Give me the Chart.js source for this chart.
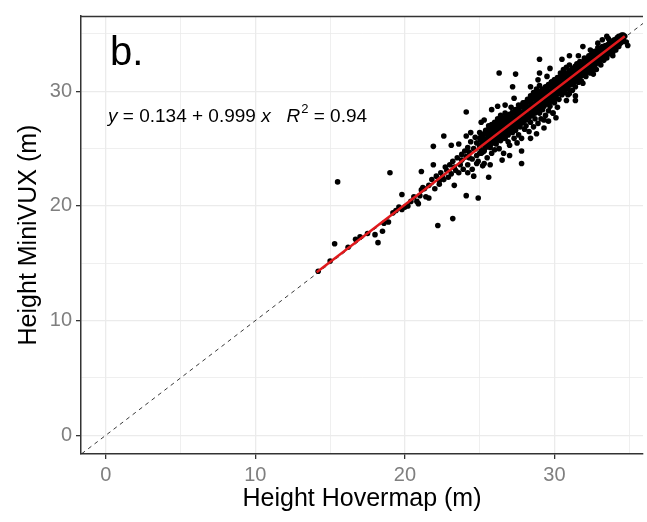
<!DOCTYPE html>
<html>
<head>
<meta charset="utf-8">
<script src="https://cdn.jsdelivr.net/npm/chart.js@4"></script>
<style>
  body { margin: 0; background: #fff; }
  canvas { display: block; }
</style>
</head>
<body>
<canvas id="grafico" width="647" height="522"></canvas>
<script>
// Alturas: Hovermap (x) vs MiniVUX (y) - pontos espalhados
const hoverX = [
  14.2, 15.3, 15.5, 16.7, 17.5, 18.0, 18.2, 18.5, 18.9, 19.2, 19.4, 19.0, 19.8, 20.0, 20.2, 20.8, 20.9,
  21.1, 21.3, 21.4, 21.6, 21.1, 21.9, 22.2, 23.2, 24.1, 24.9, 22.3, 22.5, 22.8, 23.3, 23.8, 24.3,
  21.9, 22.6, 23.1, 23.6, 24.1, 24.1, 24.2, 24.8, 25.3, 25.6, 25.3, 25.8, 26.3, 27.4, 27.2, 26.7,
  27.8, 28.4, 27.8, 29.0, 29.0, 29.7, 30.5, 31.0, 31.9, 31.6, 30.9, 31.4, 30.1, 29.9, 29.3, 32.6,
  33.9, 34.9, 34.6, 33.5, 32.4, 32.9,
  22.1, 22.3, 22.4, 22.6, 22.7, 22.9, 23.0, 23.1, 23.2, 23.4, 23.5, 23.6, 23.7, 23.8, 23.9, 24.0,
  21.6, 21.8, 22.0, 21.2, 21.0, 20.6, 20.4, 19.8, 19.6, 18.6, 17.0, 16.2, 15.0,
  24.1, 24.2, 24.2, 24.3, 24.4, 24.5, 24.5, 24.6, 24.7, 24.8, 24.8, 24.9, 25.0, 25.0, 25.1, 25.2,
  25.2, 25.3, 25.4, 25.4, 25.5, 25.6, 25.6, 25.7, 25.8, 25.8, 25.9, 26.0, 26.0, 26.0, 24.6, 25.7,
  23.3, 24.4, 25.1,
  26.1, 26.1, 26.2, 26.2, 26.3, 26.3, 26.4, 26.4, 26.5, 26.5, 26.6, 26.6, 26.7, 26.7, 26.8, 26.8,
  26.9, 26.9, 27.0, 27.0, 27.0, 27.1, 27.1, 27.2, 27.2, 27.3, 27.3, 27.4, 27.4, 27.5, 27.5, 27.5,
  27.6, 27.6, 27.7, 27.7, 27.8, 27.8, 27.9, 27.9, 28.0, 28.0, 28.0, 26.5, 27.0, 26.2, 27.3,
  28.1, 28.1, 28.2, 28.2, 28.3, 28.3, 28.4, 28.4, 28.5, 28.5, 28.6, 28.6, 28.7, 28.7, 28.8, 28.8,
  28.9, 28.9, 29.0, 29.0, 29.0, 29.1, 29.1, 29.2, 29.2, 29.3, 29.3, 29.3, 29.4, 29.4, 29.5, 29.5,
  29.6, 29.6, 29.7, 29.7, 29.8, 29.8, 29.9, 29.9, 30.0, 30.0, 30.0, 28.4, 28.9, 29.5, 28.8, 29.6,
  30.1, 30.1, 30.2, 30.2, 30.3, 30.3, 30.4, 30.4, 30.5, 30.5, 30.6, 30.6, 30.7, 30.7, 30.8, 30.8,
  30.9, 30.9, 31.0, 31.0, 31.0, 31.1, 31.1, 31.2, 31.2, 31.3, 31.3, 31.4, 31.4, 31.5, 31.5, 31.6,
  31.6, 31.7, 31.7, 31.8, 31.8, 31.9, 31.9, 32.0, 32.0, 32.0, 30.2, 30.8, 31.4,
  32.1, 32.1, 32.2, 32.2, 32.3, 32.3, 32.4, 32.4, 32.5, 32.5, 32.6, 32.6, 32.7, 32.7, 32.8, 32.8,
  32.9, 32.9, 33.0, 33.0, 33.1, 33.1, 33.2, 33.2, 33.3, 33.3, 33.4, 33.4, 33.5, 33.5, 33.6, 33.7,
  33.7, 33.8, 33.9, 33.9, 34.0, 34.1, 34.1, 34.2, 34.3, 34.3, 34.4, 34.5, 34.6, 34.7, 34.8, 33.6,
  32.9, 33.2
];
const miniY = [
  14.3, 16.7, 22.1, 17.1, 17.6, 17.5, 16.8, 17.8, 18.6, 19.4, 19.6, 22.9, 21.0, 19.9, 20.0, 20.4, 20.2,
  21.4, 21.5, 20.8, 20.7, 23.0, 23.6, 18.3, 18.9, 20.9, 20.7, 22.2, 22.5, 23.1, 23.4, 24.0, 24.2,
  25.2, 26.1, 25.3, 25.4, 28.2, 26.1, 22.9, 23.7, 23.7, 22.5, 27.5, 28.4, 31.6, 31.5, 30.4, 28.8,
  23.7, 25.9, 24.8, 32.8, 31.6, 32.0, 32.8, 33.1, 33.9, 33.1, 29.7, 29.2, 27.7, 28.1, 27.5, 31.5,
  33.1, 34.0, 34.9, 34.8, 33.6, 33.8,
  22.6, 21.9, 22.9, 22.3, 23.4, 22.5, 23.6, 22.8, 23.9, 23.1, 24.2, 22.9, 23.6, 24.5, 23.2, 24.8,
  21.8, 22.3, 21.5, 21.6, 20.9, 20.8, 20.4, 19.7, 19.9, 18.5, 17.3, 16.4, 15.2,
  24.3, 25.1, 23.6, 24.7, 25.6, 24.1, 23.2, 25.0, 26.0, 24.4, 25.5, 23.9, 25.2, 26.4, 24.6, 25.8,
  23.5, 24.9, 26.6, 25.3, 24.2, 25.9, 27.0, 25.1, 26.3, 24.6, 25.7, 27.2, 26.0, 24.9, 22.6, 23.6,
  21.8, 26.4, 27.3,
  26.5, 25.4, 27.6, 26.1, 25.0, 26.8, 27.9, 25.7, 26.3, 27.2, 24.6, 26.9, 25.9, 28.1, 26.6, 27.5,
  25.6, 26.2, 27.9, 26.8, 25.3, 27.2, 28.6, 26.4, 27.6, 25.9, 27.0, 28.3, 26.6, 27.9, 25.5, 27.3,
  26.2, 28.8, 27.6, 26.9, 28.2, 25.9, 27.4, 29.0, 26.7, 28.1, 27.5, 24.0, 24.4, 28.7, 29.4,
  28.7, 27.0, 29.3, 27.8, 26.5, 28.4, 29.6, 27.3, 28.0, 28.9, 26.9, 29.9, 28.3, 27.6, 29.2, 30.2,
  28.6, 27.2, 29.5, 28.1, 30.5, 28.9, 27.6, 29.8, 28.4, 30.1, 28.8, 26.8, 29.4, 27.9, 30.4, 29.0,
  28.3, 30.0, 29.6, 28.7, 30.8, 29.2, 28.1, 30.3, 29.8, 29.0, 31.0, 30.4, 31.0, 31.3, 26.3, 27.4,
  30.5, 29.4, 31.2, 30.0, 29.3, 30.8, 31.6, 30.2, 29.7, 31.0, 30.5, 31.9, 29.9, 31.3, 30.8, 32.1,
  30.2, 31.5, 31.0, 29.8, 32.3, 30.6, 31.7, 31.2, 30.1, 32.0, 30.9, 31.5, 30.4, 32.4, 31.1, 30.8,
  31.9, 32.6, 31.4, 30.9, 32.2, 31.7, 30.7, 32.5, 31.4, 32.9, 28.6, 29.2, 29.6,
  32.0, 31.3, 32.7, 31.7, 33.1, 32.2, 31.6, 32.8, 32.4, 33.3, 31.9, 32.9, 32.3, 33.5, 32.8, 31.9,
  33.2, 32.5, 33.7, 32.9, 32.3, 33.4, 33.0, 33.9, 32.7, 33.5, 33.1, 34.0, 33.4, 32.9, 33.8, 33.3,
  34.3, 33.7, 33.4, 34.2, 33.9, 34.4, 33.6, 34.1, 34.6, 33.9, 34.3, 34.7, 34.5, 34.8, 34.3, 34.6,
  34.2, 34.5
];

// Núcleo denso da nuvem (lido aproximadamente)
const nucleoX = [
  25.0, 25.0, 25.0, 25.1, 25.1, 25.1, 25.2, 25.2, 25.2, 25.3, 25.3, 25.3, 25.4, 25.4, 25.4,
  25.5, 25.5, 25.5, 25.6, 25.6, 25.6, 25.7, 25.7, 25.7, 25.8, 25.8, 25.8, 25.9, 25.9, 25.9,
  26.0, 26.0, 26.0, 26.1, 26.1, 26.1, 26.2, 26.2, 26.2, 26.3, 26.3, 26.3, 26.4, 26.4, 26.4,
  26.5, 26.5, 26.5, 26.6, 26.6, 26.6, 26.7, 26.7, 26.7, 26.8, 26.8, 26.8, 26.9, 26.9, 26.9,
  27.0, 27.0, 27.0, 27.1, 27.1, 27.1, 27.2, 27.2, 27.2, 27.3, 27.3, 27.3, 27.4, 27.4, 27.4,
  27.5, 27.5, 27.5, 27.6, 27.6, 27.6, 27.7, 27.7, 27.7, 27.8, 27.8, 27.8, 27.9, 27.9, 27.9,
  28.0, 28.0, 28.0, 28.1, 28.1, 28.1, 28.2, 28.2, 28.2, 28.3, 28.3, 28.3, 28.4, 28.4, 28.4,
  28.5, 28.5, 28.5, 28.6, 28.6, 28.6, 28.7, 28.7, 28.7, 28.8, 28.8, 28.8, 28.9, 28.9, 28.9,
  29.0, 29.0, 29.0, 29.1, 29.1, 29.1, 29.2, 29.2, 29.2, 29.3, 29.3, 29.3, 29.4, 29.4, 29.4,
  29.5, 29.5, 29.5, 29.6, 29.6, 29.6, 29.7, 29.7, 29.7, 29.8, 29.8, 29.8, 29.9, 29.9, 29.9,
  30.0, 30.0, 30.0, 30.1, 30.1, 30.1, 30.2, 30.2, 30.2, 30.3, 30.3, 30.3, 30.4, 30.4, 30.4,
  30.5, 30.5, 30.5, 30.6, 30.6, 30.6, 30.7, 30.7, 30.7, 30.8, 30.8, 30.8, 30.9, 30.9, 30.9,
  31.0, 31.0, 31.0, 31.1, 31.1, 31.1, 31.2, 31.2, 31.2, 31.3, 31.3, 31.3, 31.4, 31.4, 31.4,
  31.5, 31.5, 31.5, 31.6, 31.6, 31.6, 31.7, 31.7, 31.7, 31.8, 31.8, 31.8, 31.9, 31.9, 31.9,
  32.0, 32.0, 32.0, 32.1, 32.1, 32.1, 32.2, 32.2, 32.2, 32.3, 32.3, 32.3, 32.4, 32.4, 32.4,
  32.5, 32.5, 32.5, 32.6, 32.6, 32.6, 32.7, 32.7, 32.7, 32.8, 32.8, 32.8, 32.9, 32.9, 32.9,
  33.0, 33.0, 33.0, 33.1, 33.1, 33.1, 33.2, 33.2, 33.2, 33.3, 33.3, 33.3, 33.4, 33.4, 33.4,
  33.5, 33.5, 33.5, 33.6, 33.6, 33.6, 33.7, 33.7, 33.7, 33.8, 33.8, 33.8, 33.9, 33.9, 33.9,
  34.0, 34.0, 34.0, 34.1, 34.1, 34.1, 34.2, 34.2, 34.2, 34.3, 34.3, 34.3, 34.4, 34.4, 34.4,
  34.5, 34.5, 34.5, 34.6, 34.6
];
const nucleoY = [
  25.3, 25.9, 24.6, 24.9, 25.7, 26.2, 25.5, 24.7, 26.0, 25.6, 26.3, 24.8, 25.1, 25.8, 26.5,
  25.9, 25.2, 26.4, 25.4, 26.1, 26.7, 26.0, 25.3, 26.6, 25.6, 26.5, 27.1, 26.2, 25.5, 26.8,
  26.4, 25.7, 27.3, 26.0, 26.9, 25.6, 26.6, 25.9, 27.2, 26.3, 27.0, 25.8, 26.8, 26.1, 27.5,
  26.6, 27.3, 25.9, 27.0, 26.3, 27.7, 26.7, 27.4, 26.1, 27.2, 26.4, 27.9, 26.9, 27.7, 26.3,
  27.3, 26.6, 28.0, 27.0, 27.9, 26.5, 27.5, 26.8, 28.2, 27.3, 28.1, 26.7, 27.7, 27.0, 28.4,
  27.6, 28.3, 26.9, 27.9, 27.2, 28.5, 27.8, 28.6, 27.1, 28.1, 27.4, 28.8, 28.0, 28.7, 27.3,
  28.3, 27.6, 29.0, 28.2, 28.9, 27.5, 28.5, 27.8, 29.2, 28.4, 29.1, 27.7, 28.7, 28.0, 29.4,
  28.6, 29.3, 27.9, 28.9, 28.2, 29.6, 28.8, 29.5, 28.1, 29.1, 28.4, 29.8, 29.0, 29.7, 28.3,
  29.3, 28.6, 30.0, 29.2, 29.9, 28.5, 29.5, 28.8, 30.2, 29.4, 30.1, 28.7, 29.7, 29.0, 30.4,
  29.6, 30.3, 28.9, 29.9, 29.2, 30.6, 29.8, 30.5, 29.1, 30.1, 29.4, 30.8, 30.0, 30.7, 29.3,
  30.3, 29.6, 31.0, 30.2, 30.9, 29.5, 30.5, 29.8, 31.1, 30.4, 31.0, 29.8, 30.7, 30.0, 31.3,
  30.6, 31.2, 30.0, 30.9, 30.2, 31.5, 30.8, 31.4, 30.2, 31.1, 30.4, 31.6, 31.0, 31.6, 30.4,
  31.3, 30.6, 31.8, 31.2, 31.8, 30.6, 31.5, 30.8, 32.0, 31.4, 32.0, 30.8, 31.7, 31.0, 32.2,
  31.6, 32.1, 31.0, 31.9, 31.2, 32.3, 31.8, 32.3, 31.2, 32.1, 31.4, 32.5, 32.0, 32.5, 31.4,
  32.3, 31.7, 32.7, 32.2, 32.7, 31.7, 32.5, 31.9, 32.9, 32.4, 32.9, 31.9, 32.7, 32.1, 33.1,
  32.6, 33.0, 32.1, 32.9, 32.3, 33.2, 32.8, 33.2, 32.3, 33.1, 32.5, 33.4, 33.0, 33.4, 32.5,
  33.2, 32.7, 33.5, 33.2, 33.6, 32.7, 33.4, 32.9, 33.7, 33.4, 33.8, 32.9, 33.6, 33.1, 33.9,
  33.6, 34.0, 33.1, 33.8, 33.3, 34.1, 33.8, 34.2, 33.3, 34.0, 33.5, 34.3, 34.0, 34.4, 33.6,
  34.2, 33.7, 34.5, 34.2, 34.5, 33.8, 34.4, 34.0, 34.7, 34.4, 34.8, 34.1, 34.6, 34.2, 34.8,
  34.6, 34.9, 34.3, 34.7, 34.4
];

// Reta ajustada y = 0.134 + 0.999x (extremos dos dados)
const ajusteX = [14.1, 34.7];
const ajusteY = [14.22, 34.80];

// Reta 1:1
const identidade = [-5, 45];

const ticksPrincipais = [0, 10, 20, 30];

const pontos = hoverX.map((x, i) => ({ x: x, y: miniY[i] }))
    .concat(nucleoX.map((x, i) => ({ x: x, y: nucleoY[i] })));

const corGrade = '#ebebeb';
const corBorda = '#333333';
const fonte = 'Arial, "Liberation Sans"';

// Desenha a borda de cima e os textos dentro do painel
const textosPainel = {
    id: 'textosPainel',
    afterDraw(chart) {
        const { ctx, chartArea } = chart;
        ctx.save();
        ctx.strokeStyle = corBorda;
        ctx.lineWidth = 1.5;
        ctx.beginPath();
        ctx.moveTo(chartArea.left, chartArea.top + 0.5);
        ctx.lineTo(chartArea.right, chartArea.top + 0.5);
        ctx.stroke();

        ctx.fillStyle = '#000';
        ctx.textBaseline = 'alphabetic';
        ctx.font = '40px ' + fonte;
        ctx.fillText('b.', 110, 65);

        // equação
        let x = 108;
        const y = 122;
        const partes = [
            ['y', true], [' = 0.134 + 0.999 ', false], ['x', true], ['   ', false], ['R', true]
        ];
        partes.forEach(([t, it]) => {
            ctx.font = (it ? 'italic ' : '') + '19px ' + fonte;
            ctx.fillText(t, x, y);
            x += ctx.measureText(t).width;
        });
        ctx.font = '13px ' + fonte;
        ctx.fillText('2', x + 1, y - 9);
        x += ctx.measureText('2').width + 1;
        ctx.font = '19px ' + fonte;
        ctx.fillText(' = 0.94', x, y);
        ctx.restore();
    }
};

const eixoBase = {
    type: 'linear',
    ticks: {
        stepSize: 5,
        includeBounds: false,
        color: '#7f7f7f',
        font: { family: fonte, size: 20 },
        padding: 4,
        callback: v => ticksPrincipais.includes(v) ? v : ''
    },
    grid: {
        color: corGrade,
        lineWidth: c => (c.tick && c.tick.value % 10 === 0) ? 1.3 : 0.8,
        tickColor: c => (c.tick && c.tick.value % 10 === 0) ? corBorda : 'rgba(0,0,0,0)',
        tickLength: 5,
        tickWidth: 1.3
    },
    border: { display: true, color: corBorda, width: 1.5 }
};

new Chart(document.getElementById('grafico').getContext('2d'), {
    type: 'scatter',
    data: {
        datasets: [
            {
                type: 'line',
                data: ajusteX.map((x, i) => ({ x: x, y: ajusteY[i] })),
                borderColor: '#e0191c',
                borderWidth: 2.5,
                pointRadius: 0,
                order: 1
            },
            {
                data: pontos,
                backgroundColor: '#000',
                borderWidth: 0,
                pointRadius: 2.8,
                order: 2
            },
            {
                type: 'line',
                data: identidade.map(v => ({ x: v, y: v })),
                borderColor: '#222',
                borderWidth: 0.9,
                borderDash: [4, 4],
                pointRadius: 0,
                order: 3
            }
        ]
    },
    options: {
        responsive: false,
        animation: false,
        layout: { padding: { top: 10, right: 0, left: 0, bottom: 0 } },
        plugins: { legend: { display: false }, tooltip: { enabled: false } },
        scales: {
            x: {
                ...eixoBase,
                min: -1.66,
                max: 35.92,
                title: {
                    display: true,
                    text: 'Height Hovermap (m)',
                    color: '#000',
                    font: { family: fonte, size: 25 },
                    padding: { top: 4, bottom: 8 }
                },
                afterFit: s => { s.height = 68; }
            },
            y: {
                ...eixoBase,
                min: -1.635,
                max: 36.57,
                title: {
                    display: true,
                    text: 'Height MiniVUX (m)',
                    color: '#000',
                    font: { family: fonte, size: 25 },
                    padding: { top: 14, bottom: 4 }
                },
                afterFit: s => { s.width = 81; }
            }
        }
    },
    plugins: [textosPainel]
});
</script>
</body>
</html>
